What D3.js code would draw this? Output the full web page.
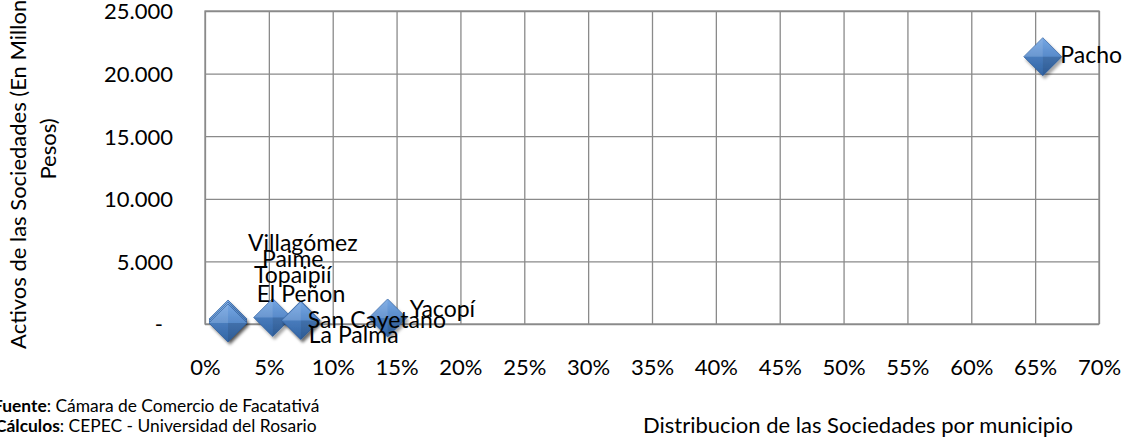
<!DOCTYPE html>
<html>
<head>
<meta charset="utf-8">
<script src="https://cdn.jsdelivr.net/npm/d3@7"></script>
<style>
  html, body { margin: 0; padding: 0; background: #fff; }
  svg { display: block; font-family: Lato, "Open Sans", "Noto Sans", sans-serif; }
</style>
</head>
<body>
<svg id="chart" width="1128" height="442"></svg>
<script>
// ---- data ----
const municipios = ["Villagómez", "Paime", "Topaipií", "El Peñon", "San Cayetano", "La Palma", "Yacopí", "Pacho"];
const distribucion = [0.018, 0.018, 0.018, 0.053, 0.075, 0.075, 0.143, 0.656];   // share of companies
const activos = [400, 240, 80, 520, 320, 280, 480, 21350];                       // millions of pesos
const xTickValues = [0, 0.05, 0.10, 0.15, 0.20, 0.25, 0.30, 0.35, 0.40, 0.45, 0.50, 0.55, 0.60, 0.65, 0.70];
const yTickValues = [0, 5000, 10000, 15000, 20000, 25000];
const yTitle = ["Activos de las Sociedades (En Millones de", "Pesos)"];
const xTitle = "Distribucion de las Sociedades por municipio";
const footer = [["Fuente", ": Cámara de Comercio de Facatativá"], ["Cálculos", ": CEPEC - Universidad del Rosario"]];

// ---- layout (label placement offsets, px) ----
const labelDx = [20, 34, 26, -16, 7, 8, 22, 17.5];
const labelDy = [-68, -54, -40, -15.5, 8, 22.5, -1, 6];

const svg = d3.select("#chart");
const plot = { left: 205, right: 1099, top: 11, bottom: 324 };

const x = d3.scaleLinear().domain([0, 0.70]).range([plot.left, plot.right]);
const y = d3.scaleLinear().domain([0, 25000]).range([plot.bottom, plot.top]);

const loc = d3.formatLocale({ decimal: ",", thousands: ".", grouping: [3], currency: ["", ""] });
const yFmt = v => v === 0 ? "-" : loc.format(",.0f")(v);
const xFmt = d3.format(".0%");

const gridColor = "#8a8a8a";

// defs
const defs = svg.append("defs");
const grad = defs.append("linearGradient").attr("id", "mk").attr("x1", 0).attr("y1", 0).attr("x2", 0).attr("y2", 1);
grad.append("stop").attr("offset", "0%").attr("stop-color", "#6ea2e2");
grad.append("stop").attr("offset", "55%").attr("stop-color", "#4a80c4");
grad.append("stop").attr("offset", "100%").attr("stop-color", "#356aad");
const flt = defs.append("filter").attr("id", "sh").attr("x", "-50%").attr("y", "-50%").attr("width", "200%").attr("height", "200%");
flt.append("feDropShadow").attr("dx", 2).attr("dy", 3).attr("stdDeviation", 1.8).attr("flood-color", "#000").attr("flood-opacity", 0.35);

// gridlines + x axis labels
svg.append("g")
  .attr("transform", `translate(0,${plot.bottom})`)
  .call(d3.axisBottom(x).tickValues(xTickValues).tickSize(-(plot.bottom - plot.top)).tickFormat(xFmt))
  .call(g => g.select(".domain").remove())
  .call(g => g.selectAll("line").attr("stroke", gridColor).attr("stroke-width", 1.3))
  .call(g => g.selectAll("text").attr("y", 51).attr("dy", 0).attr("fill", "#000")
        .style("font-size", "22px").style("font-family", "Lato, sans-serif"));

// gridlines + y axis labels
svg.append("g")
  .attr("transform", `translate(${plot.left},0)`)
  .call(d3.axisLeft(y).tickValues(yTickValues).tickSize(-(plot.right - plot.left)).tickPadding(32).tickFormat(yFmt))
  .call(g => g.select(".domain").remove())
  .call(g => g.selectAll("line").attr("stroke", gridColor).attr("stroke-width", 1.3))
  .call(g => g.selectAll("text").attr("dy", "0.36em").attr("fill", "#000")
        .style("font-size", "22px").style("font-family", "Lato, sans-serif")
        .attr("x", d => d === 0 ? -42 : -32));

// plot border
svg.append("rect")
  .attr("x", plot.left).attr("y", plot.top)
  .attr("width", plot.right - plot.left).attr("height", plot.bottom - plot.top)
  .attr("fill", "none").attr("stroke", gridColor).attr("stroke-width", 1.3);

// markers
const pts = municipios.map((m, i) => ({ m, px: x(distribucion[i]), py: y(activos[i]), i }));
const R = 19;
const mk = svg.append("g").selectAll("g").data(pts).join("g")
  .attr("transform", d => `translate(${d.px},${d.py})`);
mk.append("path")
  .attr("d", `M0,${-R}L${R},0L0,${R}L${-R},0Z`)
  .attr("fill", "url(#mk)")
  .attr("stroke", "#3465a4").attr("stroke-width", 0.8)
  .attr("filter", "url(#sh)");
// bevel facets
mk.append("path").attr("d", `M0,${-R}L${-R},0L0,0Z`).attr("fill", "#ffffff").attr("opacity", 0.16);
mk.append("path").attr("d", `M0,${-R}L${R},0L0,0Z`).attr("fill", "#ffffff").attr("opacity", 0.06);
mk.append("path").attr("d", `M${-R},0L0,${R}L0,0Z`).attr("fill", "#000").attr("opacity", 0.05);
mk.append("path").attr("d", `M${R},0L0,${R}L0,0Z`).attr("fill", "#000").attr("opacity", 0.14);

// data labels
svg.append("g").selectAll("text").data(pts).join("text")
  .attr("x", d => d.px + labelDx[d.i])
  .attr("y", d => d.py + labelDy[d.i])
  .attr("fill", "#000")
  .style("font-size", "23px")
  .text(d => d.m);

// y title
const yt = svg.append("text")
  .attr("transform", "translate(0,149) rotate(-90)")
  .attr("text-anchor", "middle")
  .style("font-size", "22px")
  .attr("fill", "#000");
yt.selectAll("tspan").data(yTitle).join("tspan")
  .attr("x", 0).attr("y", (d, i) => 26 + i * 30)
  .text(d => d);

// x title
svg.append("text")
  .attr("x", 643).attr("y", 433)
  .style("font-size", "22px")
  .attr("fill", "#000")
  .text(xTitle);

// footer
const ft = svg.append("g");
footer.forEach((f, i) => {
  const t = ft.append("text").attr("x", i === 0 ? -7 : -5).attr("y", 412 + i * 20)
    .style("font-size", "17.4px").attr("fill", "#000");
  t.append("tspan").style("font-weight", "bold").text(f[0]);
  t.append("tspan").text(f[1]);
});
</script>
</body>
</html>
